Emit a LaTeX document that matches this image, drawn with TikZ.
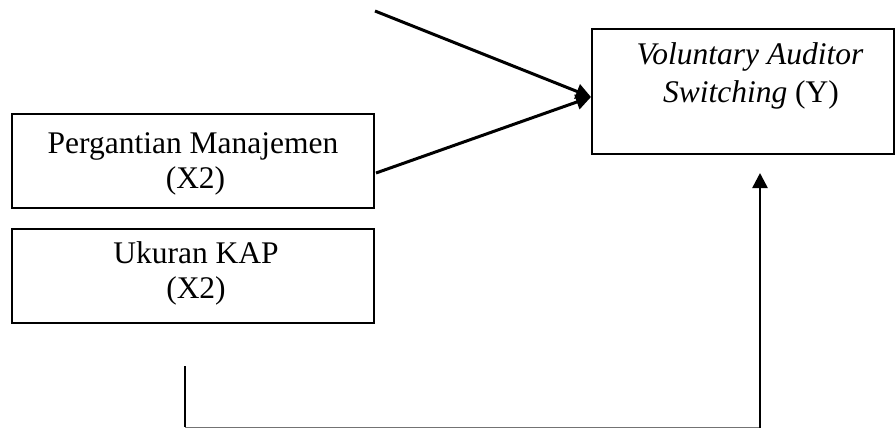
\documentclass[tikz,border=0pt]{standalone}
\usepackage{fontspec}
\setmainfont{Liberation Serif}
\usetikzlibrary{arrows.meta}
\begin{document}
\begin{tikzpicture}[x=1pt,y=-1pt,
  box/.style={draw,line width=2pt,inner sep=0pt},
  lbl/.style={font=\fontsize{31.5}{35}\selectfont,anchor=base,inner sep=0pt},
  arr/.style={line width=3pt,-{Triangle[length=15pt,width=15pt]}},
  varr/.style={line width=2.5pt,-{Triangle[length=15pt,width=15pt]}},
  thick line/.style={line width=2.5pt},
  thin line/.style={line width=1pt,black!55}]
\useasboundingbox (0,0) rectangle (896,428);
% boxes
\node[box,minimum width=362pt,minimum height=94pt] (pm) at (193,160.5) {};
\node[box,minimum width=362pt,minimum height=94pt] (uk) at (193,275.5) {};
\node[box,minimum width=302pt,minimum height=124pt] (vy) at (743,91.5) {};
% texts
\node[lbl] (pm1) at (193,153) {Pergantian Manajemen};
\node[lbl] (pm2) at (195.5,188) {(X2)};
\node[lbl] (uk1) at (196,263) {Ukuran KAP};
\node[lbl] (uk2) at (196,298) {(X2)};
\node[lbl] (vy1) at (750,64) {\textit{Voluntary Auditor}};
\node[lbl] (vy2) at (751,102) {\textit{Switching} (Y)};
% connectors
\coordinate (s1) at (375,11);
\coordinate (s2) at (376,173);
\coordinate (tip) at (591,97);
\draw[arr] (s1) -- (tip);
\draw[arr] (s2) -- (tip);
\coordinate (b1) at (185,366);
\coordinate (b2) at (185,427);
\coordinate (b3) at (760,427);
\coordinate (b4) at (760,428);
\coordinate (tip2) at (760,173);
\draw[thick line] (b1) -- (b2);
\draw[thin line] (b2) -- (b3);
\draw[varr] (b4) -- (tip2);
\end{tikzpicture}
\end{document}
